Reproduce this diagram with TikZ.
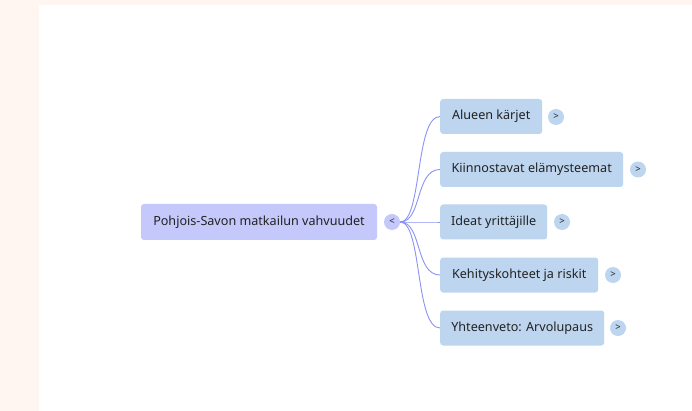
\documentclass[tikz,border=0pt]{standalone}
\usepackage{fontspec}
\setmainfont{Noto Sans}
\usetikzlibrary{calc}
\definecolor{bgpeach}{HTML}{FFF6F2}
\definecolor{rootfill}{HTML}{C4C8FA}
\definecolor{childfill}{HTML}{BDD5EF}
\definecolor{linkcol}{HTML}{8A93F5}
\definecolor{txt}{HTML}{222222}
\begin{document}
\begin{tikzpicture}[x=1pt,y=-1pt,
  rootbox/.style={fill=rootfill, rounded corners=3pt, inner sep=0pt, minimum height=36pt, text=txt, font=\fontsize{12.6}{14}\selectfont},
  childbox/.style={fill=childfill, rounded corners=3pt, inner sep=0pt, minimum height=35pt, anchor=west, text=txt, font=\fontsize{12.6}{14}\selectfont},
  togglebtn/.style={circle, inner sep=0pt, minimum size=16pt, text=txt, font=\fontsize{9.5}{10}\selectfont\bfseries},
  link/.style={draw=linkcol, line width=0.9pt}
]
\fill[bgpeach] (0,0) rectangle (692,411);
\fill[white] (39,5) rectangle (692,411);
\useasboundingbox (0,0) rectangle (692,411);

\node[rootbox, minimum width=236pt] (root) at (259,222) {Pohjois-Savon matkailun vahvuudet};
\node[togglebtn, fill=rootfill] (rt) at (392,222) {<};

\node[childbox, minimum width=102pt] (c1) at (440,116.5) {Alueen kärjet};
\node[childbox, minimum width=183pt] (c2) at (440,169.5) {Kiinnostavat elämysteemat};
\node[childbox, minimum width=107pt] (c3) at (440,222) {Ideat yrittäjille};
\node[childbox, minimum width=158pt] (c4) at (440,275) {Kehityskohteet ja riskit};
\node[childbox, minimum width=164pt] (c5) at (440,328) {Yhteenveto: Arvolupaus};

\node[togglebtn, fill=childfill] (t1) at (556,117) {>};
\node[togglebtn, fill=childfill] (t2) at (638,169.5) {>};
\node[togglebtn, fill=childfill] (t3) at (562,222) {>};
\node[togglebtn, fill=childfill] (t4) at (613,275) {>};
\node[togglebtn, fill=childfill] (t5) at (618,328) {>};

\foreach \c in {c1,c2,c3,c4,c5}{
  \draw[link] (rt.east) .. controls ($(rt.east)+(22,0)$) and ($(\c.west)+(-25,0)$) .. (\c.west);
}
\end{tikzpicture}
\end{document}
